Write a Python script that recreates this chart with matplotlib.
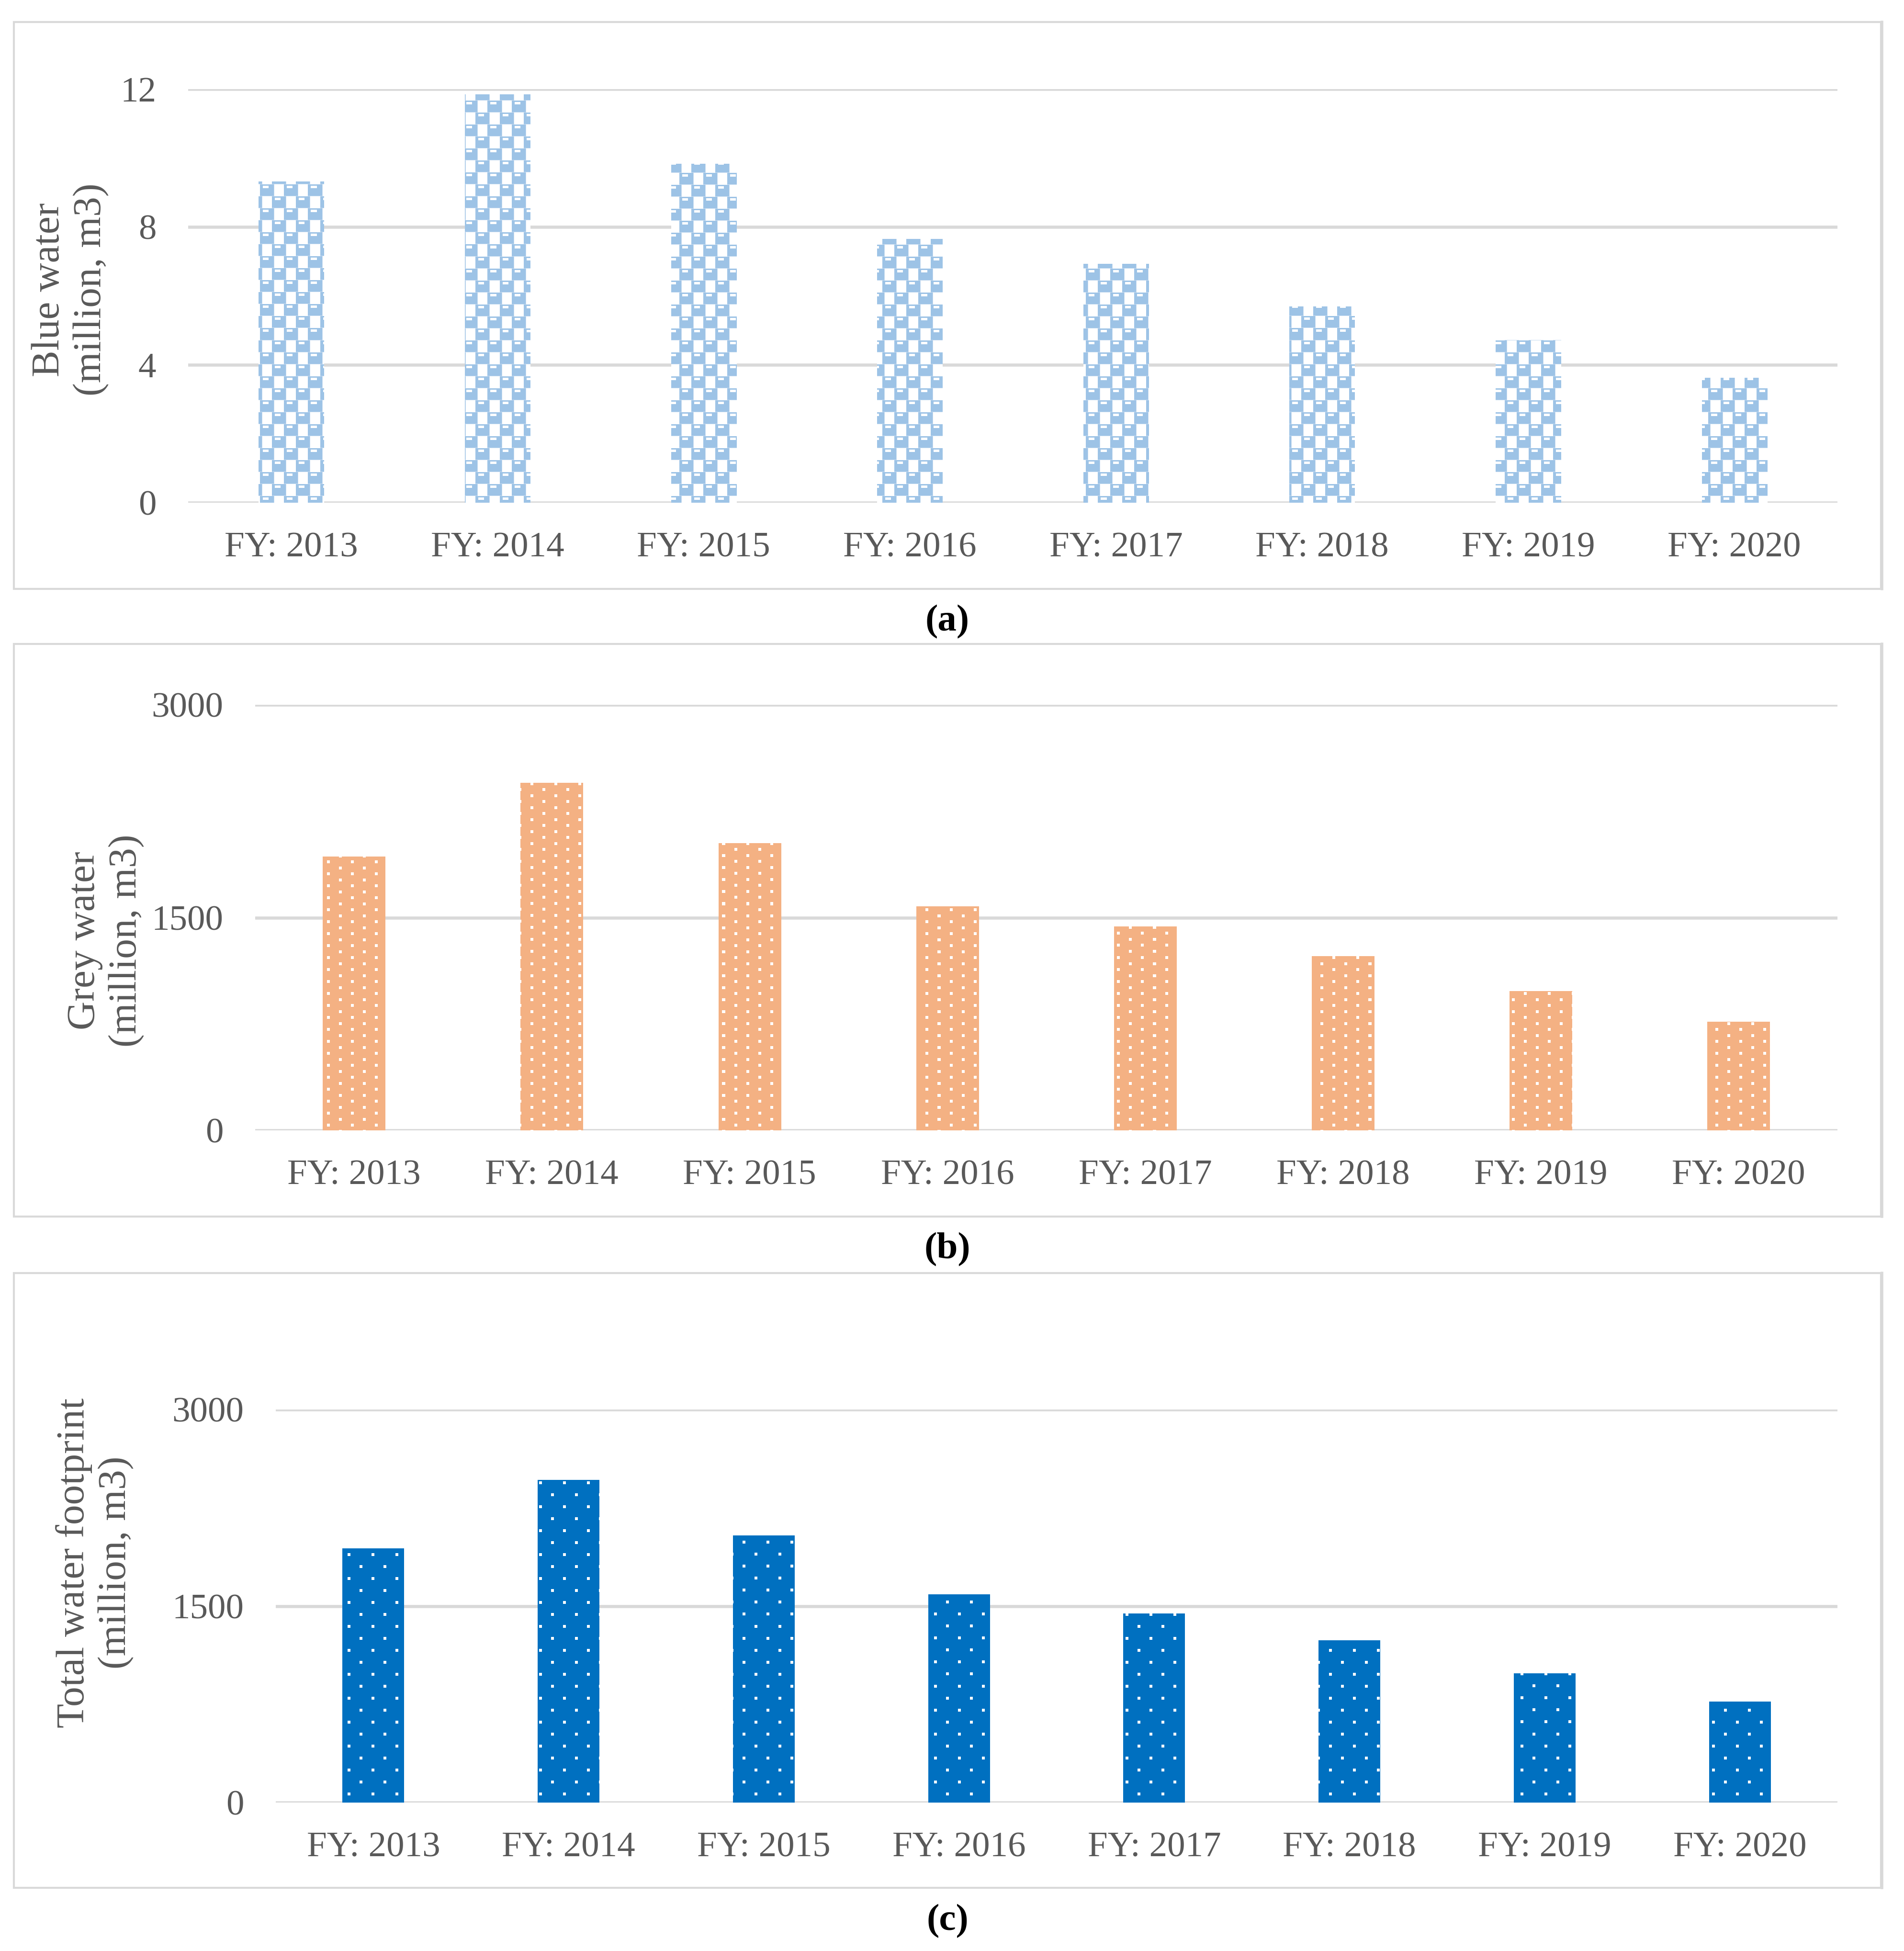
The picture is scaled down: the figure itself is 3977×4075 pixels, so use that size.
import numpy as np
import matplotlib
matplotlib.use('Agg')
import matplotlib.pyplot as plt
from matplotlib.patches import Rectangle
from matplotlib.lines import Line2D

plt.rcParams['font.family'] = ['Liberation Serif', 'DejaVu Serif']

W, H = 3977, 4075
DPI = 100

years = ['FY: 2013', 'FY: 2014', 'FY: 2015', 'FY: 2016',
         'FY: 2017', 'FY: 2018', 'FY: 2019', 'FY: 2020']
blue_water = [9.32, 11.85, 9.83, 7.65, 6.93, 5.70, 4.72, 3.62]
grey_water = [1930, 2450, 2026, 1579, 1439, 1228, 982, 765]
total_water = [1940, 2462, 2040, 1590, 1443, 1237, 987, 770]

blue_ticks = [0, 4, 8, 12]
grey_ticks = [0, 1500, 3000]
total_ticks = [0, 1500, 3000]

GRID = '#d9d9d9'
TXT = '#595959'


def frac(x0, y0, x1, y1):
    # pixel box (top-left origin) -> figure fraction [l, b, w, h]
    return [x0 / W, 1 - y1 / H, (x1 - x0) / W, (y1 - y0) / H]


def checker(h, w):
    yy, xx = np.mgrid[0:h, 0:w]
    row = (yy // 25) % 2
    xs = (xx + row * 25) % 50
    ys = yy % 25
    img = np.full((h, w, 3), 255, dtype=np.uint8)
    on = xs < 30
    notch = (xs >= 6) & (xs < 18) & (ys >= 3) & (ys < 8)
    on = on & ~notch
    img[on] = (157, 195, 230)
    # thin pale seams
    seam = (ys == 24) | (xs == 29)
    img[seam & (xs < 30)] = (200, 220, 240)
    return img


def dots(h, w, base, vper, size=6):
    yy, xx = np.mgrid[0:h, 0:w]
    img = np.empty((h, w, 3), dtype=np.uint8)
    img[:] = base
    half = vper // 2
    a = ((yy % vper) < size) & ((xx % 50) < size)
    b = (((yy + half) % vper) < size) & (((xx + 25) % 50) < size)
    img[a | b] = (255, 255, 255)
    return img


fig = plt.figure(figsize=(W / DPI, H / DPI), dpi=DPI)

panels = [
    dict(frame=(29, 46, 3929, 1230), ax=(393, 186, 3838, 1050), vals=blue_water,
         ticks=blue_ticks, top=12, color='#9dc3e6', tex='check',
         label='Blue water\n(million, m3)', lab=(147, 605), cap='(a)', capy=1299),
    dict(frame=(29, 1345, 3929, 2541), ax=(533, 1472, 3838, 2361), vals=grey_water,
         ticks=grey_ticks, top=3000, color='#f4b183', tex='orange',
         label='Grey water\n(million, m3)', lab=(221, 1965), cap='(b)', capy=2610),
    dict(frame=(29, 2659, 3929, 3943), ax=(576, 2944, 3838, 3765), vals=total_water,
         ticks=total_ticks, top=3000, color='#0070c0', tex='blue',
         label='Total water footprint\n(million, m3)', lab=(198, 3264), cap='(c)', capy=4013),
]

x = np.arange(len(years))

for p in panels:
    fx0, fy0, fx1, fy1 = p['frame']
    fig.add_artist(Rectangle((fx0 / W, 1 - fy1 / H), (fx1 - fx0) / W, (fy1 - fy0) / H,
                             transform=fig.transFigure, facecolor='none',
                             edgecolor=GRID, linewidth=3))
    fig.add_artist(Line2D([(fx1 + 2) / W] * 2, [1 - fy1 / H, 1 - fy0 / H],
                          transform=fig.transFigure, color=GRID, linewidth=4))

    ax0, ay0, ax1, ay1 = p['ax']
    ax = fig.add_axes(frac(ax0, ay0, ax1, ay1))
    ax.set_xlim(-0.5, len(years) - 0.5)
    ax.set_ylim(0, p['top'])
    ax.set_yticks(p['ticks'])
    ax.set_xticks(x)
    ax.set_xticklabels(years)
    for s in ax.spines.values():
        s.set_visible(False)
    ax.yaxis.grid(True, color=GRID, linewidth=4.7)
    ax.set_axisbelow(True)
    ax.tick_params(length=0, labelsize=54, labelcolor=TXT)
    ax.tick_params(axis='y', pad=48)
    ax.tick_params(axis='x', pad=44)

    bars = ax.bar(x, p['vals'], width=0.316, color=p['color'], linewidth=0, zorder=1)

    pw, ph = int(round(ax1 - ax0)), int(round(ay1 - ay0))
    if p['tex'] == 'check':
        tex = checker(ph, pw)
    elif p['tex'] == 'orange':
        tex = dots(ph, pw, (244, 177, 131), 25)
    else:
        tex = dots(ph, pw, (0, 112, 192), 50)
    for b in bars:
        im = ax.imshow(tex, extent=(-0.5, len(years) - 0.5, 0, p['top']),
                       aspect='auto', interpolation='nearest', zorder=1.5)
        im.set_clip_path(b)
    ax.set_xlim(-0.5, len(years) - 0.5)
    ax.set_ylim(0, p['top'])

    lx, ly = p['lab']
    fig.text(lx / W, 1 - ly / H, p['label'], rotation=90, ha='center', va='center',
             multialignment='center', fontsize=60, color=TXT, linespacing=1.2)
    fig.text(((fx0 + fx1) / 2) / W, 1 - p['capy'] / H, p['cap'], ha='center', va='center',
             fontsize=57, fontweight='bold', color='black')

fig.savefig('out.png', dpi=DPI, facecolor='white')
